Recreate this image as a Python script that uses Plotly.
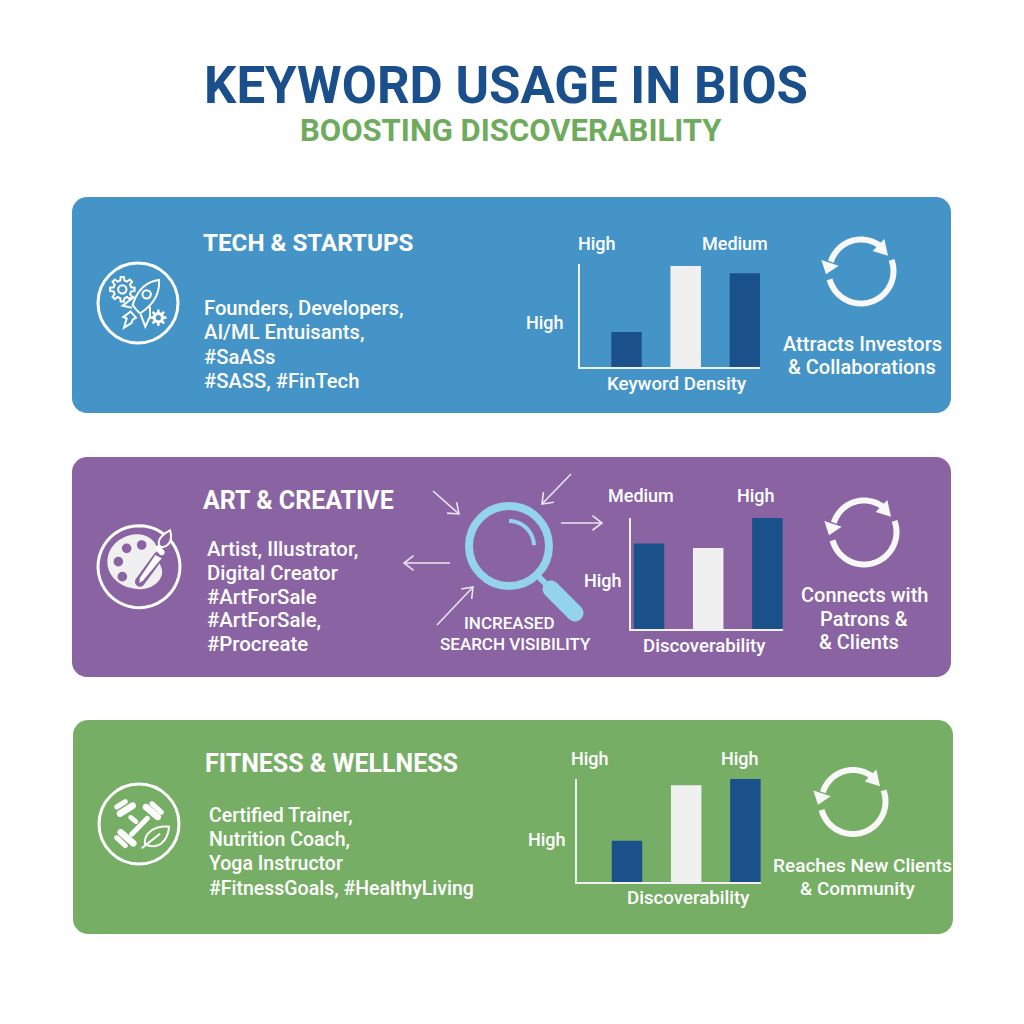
# Plot keyword usage in bios infographic with three sector panels

# Import libraries
import math
import plotly.graph_objects as go

# Define page text
title_text = 'KEYWORD USAGE IN BIOS'
subtitle_text = 'BOOSTING DISCOVERABILITY'

# Define panel text
panel_names = ['TECH & STARTUPS', 'ART & CREATIVE', 'FITNESS & WELLNESS']
tech_lines = ['Founders, Developers,', 'AI/ML Entuisants,', '#SaASs', '#SASS, #FinTech']
art_lines = ['Artist, Illustrator,', 'Digital Creator', '#ArtForSale', '#ArtForSale,', '#Procreate']
fitness_lines = ['Certified Trainer,', 'Nutrition Coach,', 'Yoga Instructor', '#FitnessGoals, #HealthyLiving']
tech_outcome = ['Attracts Investors', '& Collaborations']
art_outcome = ['Connects with', 'Patrons &', '& Clients']
fitness_outcome = ['Reaches New Clients', '& Community']
visibility_lines = ['INCREASED', 'SEARCH VISIBILITY']

# Define bar chart data
bar_categories = ['First', 'Second', 'Third']
tech_values = [34, 98, 91]
art_values = [77, 73, 100]
fitness_values = [40, 94, 100]
tech_axis_title = 'Keyword Density'
art_axis_title = 'Discoverability'
fitness_axis_title = 'Discoverability'
tech_labels = ['High', 'Medium', 'High']
art_labels = ['Medium', 'High', 'High']
fitness_labels = ['High', 'High', 'High']

# Define colors
blue_panel = '#4594c8'
purple_panel = '#8a63a3'
green_panel = '#77ae66'
navy = '#1a518a'
title_color = '#1b4f8c'
subtitle_color = '#6fab5c'
white = '#ffffff'
soft_white = '#f0f0f0'
cycle_white = '#f8f8f8'
lens_color = '#93d4ec'
arrow_color = '#e9e4ef'
font_name = 'Roboto'


# Convert pixel positions to paper positions
def px(x):
    return x / 1024


def py(y):
    return 1 - y / 1024


def path_from(points, closed=False):
    text = 'M ' + ' L '.join(f'{px(x):.5f},{py(y):.5f}' for x, y in points)
    return text + (' Z' if closed else '')


def crop(points, ox, oy):
    return [(ox + x / 3, oy + y / 3) for x, y in points]


def curve(p0, p1, p2, p3, n=14):
    out = []
    for i in range(n + 1):
        t = i / n
        a, b, c, d = (1 - t) ** 3, 3 * t * (1 - t) ** 2, 3 * t * t * (1 - t), t ** 3
        out.append((a * p0[0] + b * p1[0] + c * p2[0] + d * p3[0],
                    a * p0[1] + b * p1[1] + c * p2[1] + d * p3[1]))
    return out


def arc(cx, cy, r, a0, a1, n=48):
    # Angles in degrees with y pointing up
    return [(cx + r * math.cos(math.radians(a0 + (a1 - a0) * i / n)),
             cy - r * math.sin(math.radians(a0 + (a1 - a0) * i / n))) for i in range(n + 1)]


def capsule(x0, y0, x1, y1, w):
    ang = math.degrees(math.atan2(-(y1 - y0), x1 - x0))
    return arc(x1, y1, w / 2, ang + 90, ang - 90, 10) + arc(x0, y0, w / 2, ang - 90, ang - 270, 10)


def gear(cx, cy, r_out, r_in, teeth):
    points = []
    step = 360 / teeth
    for i in range(teeth):
        a = i * step
        for da, r in [(-0.3, r_in), (-0.17, r_out), (0.17, r_out), (0.3, r_in)]:
            ang = math.radians(a + da * step)
            points.append((cx + r * math.cos(ang), cy + r * math.sin(ang)))
    return points


# Collect drawn decorations
shapes = []


def add_path(points, closed=True, fill=None, line=None, width=0):
    shapes.append(dict(type='path', xref='paper', yref='paper', layer='below',
                       path=path_from(points, closed),
                       fillcolor=fill if fill else 'rgba(0,0,0,0)',
                       line=dict(color=line if line else 'rgba(0,0,0,0)', width=width)))


def add_circle(cx, cy, r, fill=None, line=None, width=0):
    shapes.append(dict(type='circle', xref='paper', yref='paper', layer='below',
                       x0=px(cx - r), x1=px(cx + r), y0=py(cy + r), y1=py(cy - r),
                       fillcolor=fill if fill else 'rgba(0,0,0,0)',
                       line=dict(color=line if line else 'rgba(0,0,0,0)', width=width)))


def add_panel(x0, y0, x1, y1, color, r=15):
    points = (arc(x1 - r, y0 + r, r, 90, 0, 8) + arc(x1 - r, y1 - r, r, 0, -90, 8) +
              arc(x0 + r, y1 - r, r, -90, -180, 8) + arc(x0 + r, y0 + r, r, 180, 90, 8))
    add_path(points, fill=color)


def add_cycle(cx, cy):
    add_path(arc(cx, cy, 32.5, 20, -165), closed=False, line=cycle_white, width=6)
    add_path(arc(cx, cy, 31.5, 163, 54), closed=False, line=cycle_white, width=6)
    right_head = [(70, -96), (81, -46), (35, -60)]
    left_head = [(-119, -33), (-105, 10), (-67, -16)]
    add_path(crop(right_head, cx, cy), fill=cycle_white)
    add_path(crop(left_head, cx, cy), fill=cycle_white)


def add_arrow(x0, y0, x1, y1, color=arrow_color, head=12):
    add_path([(x0, y0), (x1, y1)], closed=False, line=color, width=1.6)
    ang = math.atan2(y1 - y0, x1 - x0)
    left = (x1 - head * math.cos(ang - 0.65), y1 - head * math.sin(ang - 0.65))
    right = (x1 - head * math.cos(ang + 0.65), y1 - head * math.sin(ang + 0.65))
    add_path([left, (x1, y1), right], closed=False, line=color, width=1.6)


# Create panels
add_panel(72, 197, 951, 413, blue_panel)
add_panel(72, 457, 951, 677, purple_panel)
add_panel(73, 720, 953, 934, green_panel)

# Create rocket icon
ox, oy = 90, 255
add_circle(138, 303, 40, line=white, width=3)
rocket = (curve((207, 75), (165, 80), (140, 110), (128, 150)) +
          curve((128, 150), (135, 160), (142, 168), (150, 175)) +
          curve((150, 175), (190, 150), (210, 115), (207, 75)))
add_path(crop(rocket, ox, oy), line=white, width=2)
add_circle(ox + 170 / 3, oy + 118 / 3, 4.2, line=white, width=2)
add_path(crop([(133, 125), (98, 152), (126, 158)], ox, oy), closed=False, line=white, width=2)
add_path(crop([(152, 178), (166, 215), (180, 184), (180, 155)], ox, oy), closed=False, line=white, width=2)
add_path(crop([(122, 170), (100, 186), (110, 190), (102, 218), (124, 204), (128, 194), (138, 188)], ox, oy),
         line=white, width=2)
add_path(crop(gear(97, 103, 37, 27, 8), ox, oy), line=white, width=2)
add_circle(ox + 97 / 3, oy + 103 / 3, 4.2, line=white, width=2)
add_path(crop(gear(205, 188, 25, 17, 8), ox, oy), fill=white)
add_circle(ox + 205 / 3, oy + 188 / 3, 2.6, fill=blue_panel)

# Create palette icon
ox, oy = 90, 515
add_path(arc(ox + 147 / 3, oy + 155 / 3, 41, 60, -335), closed=False, line=white, width=3)
palette = (curve((52, 140), (52, 90), (100, 56), (145, 58)) +
           curve((145, 58), (180, 60), (205, 85), (200, 110)) +
           curve((200, 110), (195, 135), (220, 150), (216, 178)) +
           curve((216, 178), (208, 210), (170, 226), (140, 222)) +
           curve((140, 222), (92, 218), (52, 186), (52, 140)))
add_path(crop(palette, ox, oy), fill=soft_white)
for hx, hy in [(110, 100), (155, 90), (85, 140), (97, 185)]:
    add_circle(ox + hx / 3, oy + hy / 3, 4.8, fill=purple_panel)
add_path(crop(capsule(205, 125, 150, 200, 30), ox, oy), fill=purple_panel)
add_path(crop([(196, 120), (215, 130), (160, 196), (148, 204), (150, 188)], ox, oy), fill=white)
add_path(crop(capsule(205, 100, 215, 112, 18), ox, oy), fill=white)
brush = (curve((240, 46), (210, 62), (198, 82), (212, 96)) +
         curve((212, 96), (235, 98), (250, 75), (240, 46)))
add_path(crop(brush, ox, oy), line=white, width=2, fill=purple_panel)

# Create dumbbell and leaf icon
ox, oy = 90, 775
add_circle(139, 824, 40, line=white, width=3)
for segment in [(92, 172, 130, 205, 20), (80, 188, 106, 212, 15), (168, 96, 203, 126, 20), (186, 86, 214, 112, 15),
                (90, 116, 128, 92, 20), (80, 96, 106, 80, 15)]:
    add_path(crop(capsule(*segment), ox, oy), fill=white)
add_path(crop(capsule(125, 178, 172, 130, 15), ox, oy), fill=white)
add_path(crop(capsule(122, 127, 138, 140, 14), ox, oy), fill=white)
leaf = (curve((165, 207), (160, 175), (195, 150), (237, 155)) +
        curve((237, 155), (235, 195), (205, 228), (165, 207)))
add_path(crop(leaf, ox, oy), line=white, width=2)
add_path(crop([(155, 220), (210, 176)], ox, oy), closed=False, line=white, width=2)

# Create cycle icons
add_cycle(861, 271)
add_cycle(864, 532)
add_cycle(853, 801.5)

# Create magnifier and arrows
add_circle(509, 546, 40, line=lens_color, width=8)
add_path(arc(509, 546, 25, 90, 2, 20), closed=False, line=lens_color, width=4)
add_path(capsule(537, 575, 552, 590, 6), fill=lens_color)
add_path(capsule(551, 589, 575, 613, 17), fill=lens_color)
add_arrow(433, 491, 459, 514)
add_arrow(571, 474, 542, 504)
add_arrow(561, 523, 602, 523)
add_arrow(450, 563, 404, 563)
add_arrow(437, 625, 473, 587)

# Create text labels
annotations = []


def add_text(text, x, y, size, color=white, weight=500, anchor='center'):
    # Annotations pad their box by two pixels on the left
    shift = -2 if anchor == 'left' else 0
    annotations.append(dict(text=text, x=px(x + shift), y=py(y), xref='paper', yref='paper',
                            xanchor=anchor, yanchor='middle', showarrow=False,
                            font=dict(family=font_name, size=size, color=color, weight=weight)))


add_text(title_text, 506, 85, 51, title_color, 700)
add_text(subtitle_text, 511, 130, 31, subtitle_color, 700)

# Panel headings and body lines
add_text(panel_names[0], 203, 243, 24.2, weight=700, anchor='left')
add_text(panel_names[1], 203, 500, 25, weight=700, anchor='left')
add_text(panel_names[2], 205, 763, 25, weight=700, anchor='left')
for line, y in zip(tech_lines, [308, 332, 357, 381]):
    add_text(line, 204, y, 20.2, anchor='left')
for line, y in zip(art_lines, [549, 573, 597, 620, 644]):
    add_text(line, 207, y, 20.4, anchor='left')
for line, y in zip(fitness_lines, [815, 839, 863, 888]):
    add_text(line, 209, y, 19.5, anchor='left')

# Outcome lines
for line, x, y in zip(tech_outcome, [862, 862], [344, 367]):
    add_text(line, x, y, 20)
for line, x, y in zip(art_outcome, [864, 864, 859], [595, 619, 642]):
    add_text(line, x, y, 20)
for line, x, y in zip(fitness_outcome, [862, 858], [865, 888]):
    add_text(line, x, y, 19)
for line, x, y in zip(visibility_lines, [509, 515], [623, 644]):
    add_text(line, x, y, 17)

# Bar chart labels
for label, x, y in zip(tech_labels, [597, 735, 545], [243, 243, 322]):
    add_text(label, x, y, 18)
for label, x, y in zip(art_labels, [641, 756, 603], [495, 495, 580]):
    add_text(label, x, y, 18)
for label, x, y in zip(fitness_labels, [590, 740, 547], [758, 758, 839]):
    add_text(label, x, y, 18)
add_text(tech_axis_title, 677, 384, 18.7)
add_text(art_axis_title, 704, 646, 18.7)
add_text(fitness_axis_title, 688, 898, 18.7)

# Create bar charts
combined_plot = go.Figure()
chart_specs = [
    dict(values=tech_values, colors=[navy, soft_white, navy], left=579.5, right=760, top=264, bottom=367, first=626.5),
    dict(values=art_values, colors=[navy, soft_white, navy], left=630.5, right=783, top=518, bottom=629, first=649),
    dict(values=fitness_values, colors=[navy, soft_white, navy], left=576.5, right=761, top=779, bottom=882, first=627),
]
spacing = 59.2
layout_axes = {}
for number, spec in enumerate(chart_specs, start=1):
    suffix = '' if number == 1 else str(number)
    combined_plot.add_trace(go.Bar(x=bar_categories, y=spec['values'],
                                   marker=dict(color=spec['colors'], line=dict(width=0)),
                                   xaxis='x' + suffix, yaxis='y' + suffix,
                                   showlegend=False))
    layout_axes['xaxis' + suffix] = dict(
        type='category', domain=[px(spec['left']), px(spec['right'])],
        range=[(spec['left'] - spec['first']) / spacing, (spec['right'] - spec['first']) / spacing],
        showticklabels=False, ticks='', showgrid=False, zeroline=False,
        showline=True, linecolor=soft_white, linewidth=1.5, anchor='y' + suffix, fixedrange=True)
    layout_axes['yaxis' + suffix] = dict(
        domain=[py(spec['bottom']), py(spec['top'])], range=[0, 100],
        showticklabels=False, ticks='', showgrid=False, zeroline=False,
        showline=True, linecolor=soft_white, linewidth=1.5, anchor='x' + suffix, fixedrange=True)

# Style the plot
combined_plot.update_layout(
    width=1024,
    height=1024,
    margin=dict(l=0, r=0, t=0, b=0),
    paper_bgcolor=white,
    plot_bgcolor='rgba(0,0,0,0)',
    bargap=0.485,
    shapes=shapes,
    annotations=annotations,
    **layout_axes
)

# Export to HTML
combined_plot.write_html('out.html', config=dict(displayModeBar=False),
                         post_script="document.body.style.margin='0';document.body.style.overflow='hidden';")
